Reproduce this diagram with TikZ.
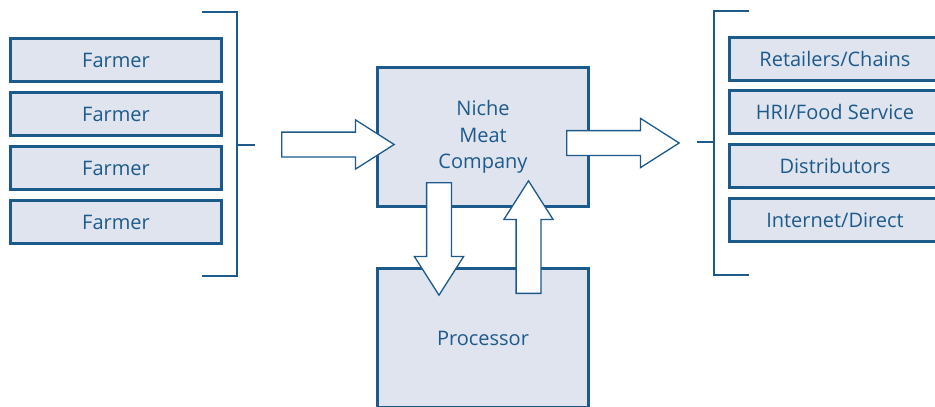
\documentclass[tikz,border=0pt]{standalone}
\usepackage{fontspec}
\setmainfont{Open Sans}
\usepackage{tikz}
\usetikzlibrary{shapes.arrows}
\definecolor{nmblue}{HTML}{1D5A8C}
\definecolor{nmfill}{HTML}{DFE4EE}

\begin{document}
\begin{tikzpicture}[x=1pt,y=-1pt]
	\tikzstyle{box}=[draw=nmblue, fill=nmfill, line width=2.6pt, text=nmblue, minimum width=211.5pt, minimum height=43.5pt, inner sep=0pt, font=\fontsize{20}{26.5}\selectfont]
	\tikzstyle{big}=[box, minimum height=139.5pt, align=center]
	\tikzstyle{flow}=[single arrow, draw=nmblue, fill=white, line width=1.3pt, minimum height=112.5pt, minimum width=48pt, inner sep=0pt, inner ysep=11.75pt, single arrow head extend=12.25pt, single arrow tip angle=65, anchor=tail]
	\tikzstyle{bracket}=[draw=nmblue, line width=2.4pt]
	\clip (0,0) rectangle (935,407);
	% farmers
	\node [box] (farmer1) at (116,60) {Farmer};
	\node [box] (farmer2) at (116,114) {Farmer};
	\node [box] (farmer3) at (116,168) {Farmer};
	\node [box] (farmer4) at (116,222) {Farmer};
	\draw [bracket] (202,12) -- (237,12) -- (237,276) -- (202,276);
	\draw [bracket] (237,145) -- (255,145);
	% company and processor
	\node [big] (niche) at (483,137) {Niche\\Meat\\Company};
	\node [big] (proc) at (483,338) {Processor};
	% outlets
	\node [box] (retail) at (835,59) {Retailers/Chains};
	\node [box] (hri) at (835,112) {HRI/Food Service};
	\node [box] (distrib) at (835,166) {Distributors};
	\node [box] (internet) at (835,220) {Internet/Direct};
	\draw [bracket] (749,11) -- (714,11) -- (714,275) -- (749,275);
	\draw [bracket] (697,142) -- (714,142);
	% flows
	\node [flow] (inflow) at (281,144.5) {};
	\node [flow] (outflow) at (566,143) {};
	\node [flow, rotate=-90] (toproc) at (439,182) {};
	\node [flow, rotate=90] (fromproc) at (528.5,294) {};
\end{tikzpicture}
\end{document}
